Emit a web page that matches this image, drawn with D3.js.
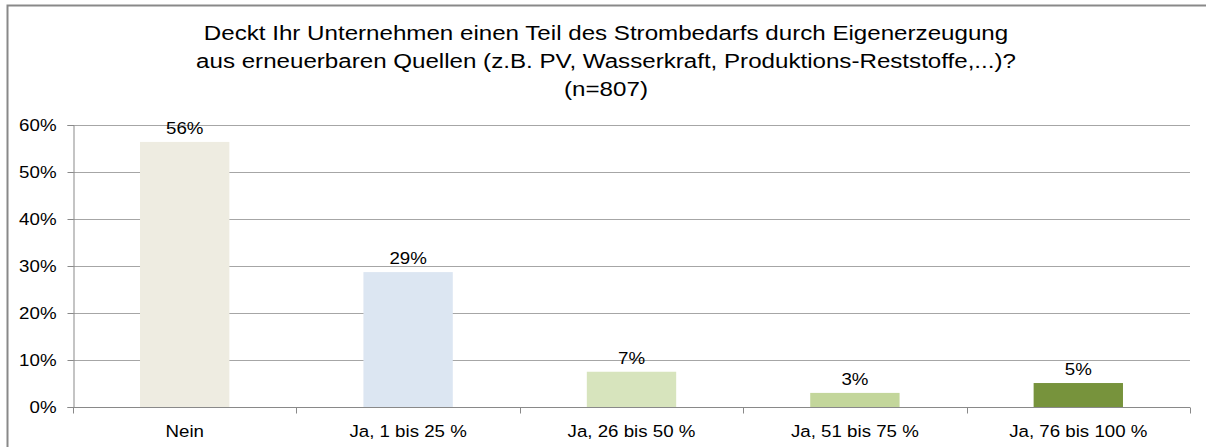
<!DOCTYPE html>
<html>
<head>
<meta charset="utf-8">
<script src="https://cdn.jsdelivr.net/npm/d3@7"></script>
<style>
  body { margin: 0; background: #fff; }
  text { font-family: "Liberation Sans", Arial, sans-serif; fill: #000; }
</style>
</head>
<body>
<script>
const categories = ["Nein", "Ja, 1 bis 25 %", "Ja, 26 bis 50 %", "Ja, 51 bis 75 %", "Ja, 76 bis 100 %"];
const values = [56.4, 28.7, 7.5, 3.0, 5.1];
const valueLabels = ["56%", "29%", "7%", "3%", "5%"];
const barColors = ["#EEECE1", "#DCE6F2", "#D7E4BD", "#C3D69B", "#77933C"];
const yTicks = [0, 10, 20, 30, 40, 50, 60];
const titleLines = [
  "Deckt Ihr Unternehmen einen Teil des Strombedarfs durch Eigenerzeugung",
  "aus erneuerbaren Quellen (z.B. PV, Wasserkraft, Produktions-Reststoffe,...)?",
  "(n=807)"
];

const w = 1206;
const h = 447;
const margin = { left: 73, right: 16, top: 125, bottom: 40 };
const stretch = 1.1; // the original font looks a bit wider than it is tall

const svg = d3.select("body").append("svg").attr("width", w).attr("height", h);

// chart border
svg.append("rect")
  .attr("x", 7.5).attr("y", 5.5)
  .attr("width", w + 10).attr("height", h + 10)
  .attr("fill", "none").attr("stroke", "#898989").attr("stroke-width", 2);

// title
svg.append("g").selectAll("text")
  .data(titleLines)
  .enter()
  .append("text")
  .attr("transform", (d, i) => "translate(606," + (40 + i * 28) + ") scale(1.15,1)")
  .attr("text-anchor", "middle")
  .style("font-size", "21px")
  .text((d) => d);

const xScale = d3.scaleBand()
  .domain(categories)
  .range([margin.left, w - margin.right])
  .paddingInner(0.6)
  .paddingOuter(0.3);

const yScale = d3.scaleLinear()
  .domain([0, 60])
  .range([h - margin.bottom, margin.top]);

// gridlines
svg.append("g")
  .selectAll("line")
  .data(yTicks.slice(1))
  .enter()
  .append("line")
  .attr("x1", margin.left).attr("x2", w - margin.right)
  .attr("y1", (d) => Math.round(yScale(d)) + 0.5)
  .attr("y2", (d) => Math.round(yScale(d)) + 0.5)
  .attr("stroke", "#a6a6a6").attr("stroke-width", 1);

// bars
svg.append("g")
  .selectAll("rect")
  .data(values)
  .enter()
  .append("rect")
  .attr("x", (d, i) => xScale(categories[i]))
  .attr("y", (d) => yScale(d))
  .attr("width", xScale.bandwidth())
  .attr("height", (d) => yScale(0) - yScale(d))
  .attr("fill", (d, i) => barColors[i]);

// value labels
svg.append("g")
  .selectAll("text")
  .data(values)
  .enter()
  .append("text")
  .attr("transform", (d, i) =>
    "translate(" + (xScale(categories[i]) + xScale.bandwidth() / 2) + "," + (yScale(d) - 8) + ") scale(" + stretch + ",1)")
  .attr("text-anchor", "middle")
  .style("font-size", "17px")
  .text((d, i) => valueLabels[i]);

// y axis
const yAxis = d3.axisLeft(yScale)
  .tickValues(yTicks)
  .tickSize(6)
  .tickPadding(12)
  .tickFormat((d) => d + "%");
const yG = svg.append("g")
  .attr("transform", "translate(" + (margin.left + 0.5) + ",0)")
  .call(yAxis);
yG.select(".domain").attr("stroke", "#898989");
yG.selectAll(".tick line").attr("stroke", "#898989");
yG.selectAll(".tick text")
  .attr("x", null)
  .attr("transform", "translate(-17,0) scale(" + stretch + ",1)")
  .style("font-size", "17px").attr("fill", "#000");

// x axis
const xStep = (w - margin.right - margin.left) / categories.length;
const xG = svg.append("g")
  .attr("transform", "translate(0," + (Math.round(yScale(0)) + 0.5) + ")");
xG.append("line")
  .attr("x1", margin.left).attr("x2", w - margin.right)
  .attr("stroke", "#898989");
xG.selectAll("line.tk")
  .data(d3.range(categories.length + 1))
  .enter()
  .append("line")
  .attr("class", "tk")
  .attr("x1", (d) => Math.round(margin.left + d * xStep) + 0.5)
  .attr("x2", (d) => Math.round(margin.left + d * xStep) + 0.5)
  .attr("y1", 0).attr("y2", 6)
  .attr("stroke", "#898989");
xG.selectAll("text")
  .data(categories)
  .enter()
  .append("text")
  .attr("transform", (d) => "translate(" + (xScale(d) + xScale.bandwidth() / 2) + ",29) scale(" + stretch + ",1)")
  .attr("text-anchor", "middle")
  .style("font-size", "17px")
  .text((d) => d);
</script>
</body>
</html>
